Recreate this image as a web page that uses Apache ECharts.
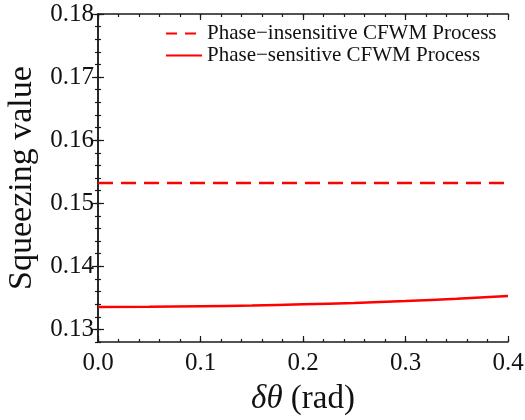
<!DOCTYPE html>
<html>
<head>
<meta charset="utf-8">
<script src="https://cdn.jsdelivr.net/npm/echarts@6/dist/echarts.min.js"></script>
<style>
  html, body { margin: 0; padding: 0; background: #fff; }
  #chart { width: 525px; height: 420px; }
</style>
</head>
<body>
<div id="chart"></div>
<script>
// data
var dTheta = [0, 0.05, 0.1, 0.15, 0.2, 0.25, 0.3, 0.35, 0.4];
var insensitive = [0.1532, 0.1532, 0.1532, 0.1532, 0.1532, 0.1532, 0.1532, 0.1532, 0.1532];
var sensitive = [0.13354, 0.13358, 0.13366, 0.13378, 0.13397, 0.13420, 0.13449, 0.13485, 0.13529];
var yTicks = [0.13, 0.14, 0.15, 0.16, 0.17, 0.18];
var seriesNames = ['Phase\u2212insensitive CFWM Process', 'Phase\u2212sensitive CFWM Process'];

var chart = echarts.init(document.getElementById('chart'));
var font = 'Liberation Serif';
var yMin = 0.128, yMax = 0.18;

function pairs(xs, ys) {
    return xs.map(function (x, i) { return [x, ys[i]]; });
}

// one axis of the frame; len = tick length, step = tick interval
function xFrame(pos, step, len, withLine) {
    return {
        type: 'value', position: pos, min: 0, max: 0.4, interval: step,
        axisLine: { show: withLine, lineStyle: { color: '#1a1a1a', width: 1.5 } },
        axisTick: { show: true, inside: true, length: len, lineStyle: { color: '#1a1a1a', width: 1.2 } },
        splitLine: { show: false },
        axisLabel: { show: false }
    };
}
function yFrame(pos, step, len, withLine) {
    return {
        type: 'value', position: pos, min: yMin, max: yMax, interval: step,
        axisLine: { show: withLine, lineStyle: { color: '#1a1a1a', width: 1.5 } },
        axisTick: { show: true, inside: true, length: len, lineStyle: { color: '#1a1a1a', width: 1.2 } },
        splitLine: { show: false },
        axisLabel: { show: false }
    };
}

var xMain = xFrame('bottom', 0.1, 6, true);
xMain.axisLabel = {
    show: true, margin: 9, fontFamily: font, fontSize: 25, color: '#111',
    formatter: function (v) { return v.toFixed(1); }
};
xMain.name = '{i|\u03b4\u03b8} (rad)';
xMain.nameLocation = 'middle';
xMain.nameGap = 41;
xMain.nameTextStyle = {
    fontFamily: font, fontSize: 33, color: '#111',
    rich: { i: { fontFamily: font, fontSize: 33, fontStyle: 'italic', color: '#111' } }
};

var yMain = yFrame('left', null, 6, true);
delete yMain.interval;
yMain.axisTick.customValues = yTicks;
yMain.axisLabel = {
    show: true, customValues: yTicks, margin: 4,
    fontFamily: font, fontSize: 25, color: '#111',
    formatter: function (v) { return v.toFixed(2); }
};
yMain.name = 'Squeezing value';
yMain.nameLocation = 'middle';
yMain.nameGap = 55;
yMain.nameTextStyle = { fontFamily: font, fontSize: 34, color: '#111' };

var yRight = yFrame('right', null, 6, true);
delete yRight.interval;
yRight.axisTick.customValues = yTicks;

var option = {
    backgroundColor: '#fff',
    animation: false,
    grid: { left: 98, right: 17, top: 14, bottom: 78, outerBoundsMode: 'none', containLabel: false },
    legend: {
        orient: 'vertical',
        left: 161,
        top: 18,
        itemWidth: 36,
        itemHeight: 3,
        itemGap: 1,
        textStyle: { fontFamily: font, fontSize: 21, color: '#111' },
        data: [
            { name: seriesNames[0], icon: 'path://M0,0h11v2h-11z M19,0h11v2h-11z M36,0' },
            { name: seriesNames[1], icon: 'path://M0,0h36v2h-36z' }
        ]
    },
    xAxis: [
        xMain,
        xFrame('bottom', 0.02, 3, false),
        xFrame('top', 0.1, 6, true),
        xFrame('top', 0.02, 3, false)
    ],
    yAxis: [
        yMain,
        yFrame('left', 0.002, 3, false),
        yRight,
        yFrame('right', 0.002, 3, false)
    ],
    series: [
        {
            name: seriesNames[0],
            type: 'line',
            showSymbol: false,
            symbol: 'none',
            lineStyle: { color: '#ff0000', width: 2.5, type: [15, 8] },
            itemStyle: { color: '#ff0000' },
            data: pairs(dTheta, insensitive)
        },
        {
            name: seriesNames[1],
            type: 'line',
            smooth: true,
            showSymbol: false,
            symbol: 'none',
            lineStyle: { color: '#ff0000', width: 2.5 },
            itemStyle: { color: '#ff0000' },
            data: pairs(dTheta, sensitive)
        }
    ]
};

chart.setOption(option);
window.onresize = function () { chart.resize(); };
</script>
</body>
</html>
